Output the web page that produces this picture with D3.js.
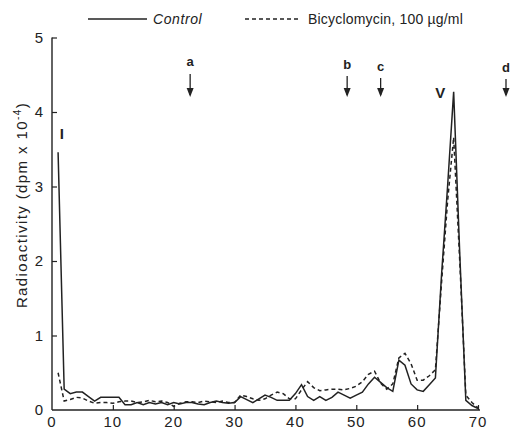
<!DOCTYPE html>
<html><head><meta charset="utf-8">
<script src="https://cdn.jsdelivr.net/npm/d3@7"></script>
<style>
html,body{margin:0;padding:0;background:#fff;}
svg{display:block;}
text{font-family:"Liberation Sans","DejaVu Sans",sans-serif;fill:#222;}
</style></head>
<body>
<svg id="c" width="510" height="430"></svg>
<script>
// ---- data ----
const fractions = d3.range(1, 71);
const control = [3.46,0.28,0.22,0.24,0.24,0.18,0.12,0.17,0.17,0.17,
  0.17,0.07,0.07,0.10,0.07,0.10,0.08,0.10,0.07,0.10,
  0.08,0.10,0.10,0.08,0.07,0.10,0.12,0.10,0.09,0.10,
  0.18,0.14,0.10,0.15,0.20,0.17,0.13,0.13,0.13,0.22,
  0.34,0.18,0.13,0.18,0.13,0.17,0.24,0.20,0.16,0.20,
  0.24,0.35,0.44,0.37,0.30,0.25,0.67,0.60,0.35,0.27,
  0.25,0.34,0.43,1.80,3.00,4.27,2.10,0.13,0.06,0.02];
const bicyclomycin = [0.50,0.12,0.14,0.17,0.16,0.12,0.09,0.10,0.10,0.09,
  0.11,0.12,0.12,0.10,0.11,0.13,0.11,0.12,0.10,0.05,
  0.09,0.11,0.11,0.10,0.12,0.11,0.10,0.12,0.10,0.10,
  0.20,0.18,0.15,0.13,0.15,0.20,0.24,0.22,0.15,0.15,
  0.27,0.38,0.30,0.26,0.27,0.28,0.28,0.27,0.29,0.32,
  0.38,0.48,0.52,0.36,0.28,0.35,0.70,0.76,0.62,0.40,
  0.40,0.46,0.54,1.70,2.80,3.66,2.00,0.20,0.10,0.03];
const xTicks = [0,10,20,30,40,50,60,70];
const yTicks = [0,1,2,3,4,5];
const arrowLabels = ["a","b","c","d"];
const arrowPositions = [22.7,48.5,54,74.6];
const peakLabels = ["I","V"];
const peakPositions = [1.6,63.8];
const peakValues = [3.75,4.3];
const seriesNames = ["Control","Bicyclomycin, 100 \u00b5g/ml"];

// ---- drawing ----
const svg = d3.select("#c");
const x = d3.scaleLinear().domain([0,70]).range([52,478]);
const y = d3.scaleLinear().domain([0,5]).range([410,37.5]);
const ink = "#222";

// axes
const yAxis = d3.axisRight(y).tickValues(yTicks.slice(1)).tickSize(5).tickFormat("");
const gy = svg.append("g").attr("transform",`translate(${x(0)},0)`).call(yAxis);
gy.select(".domain").attr("d",`M0,${y(5)}V${y(0)}`).attr("stroke",ink).attr("stroke-width",1.4);
gy.selectAll(".tick line").attr("stroke",ink).attr("stroke-width",1.2);

const xAxis = d3.axisTop(x).tickValues(xTicks.slice(1)).tickSize(5).tickFormat("");
const gx = svg.append("g").attr("transform",`translate(0,${y(0)})`).call(xAxis);
gx.select(".domain").attr("d",`M${x(0)},0H${x(70)+2}`).attr("stroke",ink).attr("stroke-width",1.4);
gx.selectAll(".tick line").attr("stroke",ink).attr("stroke-width",1.2);

// tick labels
svg.append("g").selectAll("text").data(yTicks).join("text")
  .attr("x",x(0)-9).attr("y",d=>y(d)+5).attr("text-anchor","end")
  .attr("font-size",15).text(d=>d);
svg.append("g").selectAll("text").data(xTicks).join("text")
  .attr("x",d=>x(d)).attr("y",y(0)+17).attr("text-anchor","middle")
  .attr("font-size",15).attr("letter-spacing",1).text(d=>d);

// axis title
svg.append("text").attr("transform",`translate(27,205) rotate(-90)`)
  .attr("text-anchor","middle").attr("font-size",15).attr("letter-spacing",1.4)
  .html("Radioactivity (dpm x 10<tspan dy='-6' font-size='10'>-4</tspan><tspan dy='6'>)</tspan>");

// lines
const line = d3.line().x((d,i)=>x(fractions[i])).y(d=>y(d));
svg.append("path").datum(bicyclomycin).attr("d",line).attr("fill","none")
  .attr("stroke",ink).attr("stroke-width",1.5).attr("stroke-dasharray","4,3");
svg.append("path").datum(control).attr("d",line).attr("fill","none")
  .attr("stroke",ink).attr("stroke-width",1.5);

// legend
const lg = svg.append("g");
lg.append("line").attr("x1",88).attr("x2",147).attr("y1",19).attr("y2",19).attr("stroke",ink).attr("stroke-width",1.4);
lg.append("text").attr("x",153).attr("y",24).attr("font-size",14).attr("font-style","italic").attr("letter-spacing",0.6).text(seriesNames[0]);
lg.append("line").attr("x1",245).attr("x2",300).attr("y1",19).attr("y2",19).attr("stroke",ink).attr("stroke-width",1.4).attr("stroke-dasharray","4,3");
lg.append("text").attr("x",308).attr("y",24).attr("font-size",14).attr("letter-spacing",0.2).text(seriesNames[1]);

// arrows
const ag = svg.append("g").selectAll("g").data(arrowLabels).join("g")
  .attr("transform",(d,i)=>`translate(${x(arrowPositions[i])},0)`);
ag.append("text").attr("y",(d,i)=>[66,69,71,72][i]).attr("text-anchor","middle")
  .attr("font-size",13).attr("font-weight","bold").text(d=>d);
ag.append("line").attr("y1",(d,i)=>[74,76,78,79][i]).attr("y2",95).attr("stroke",ink).attr("stroke-width",1.3);
ag.append("path").attr("d","M-3.5,88L0,97L3.5,88Z").attr("fill",ink);

// peak labels
svg.append("g").selectAll("text").data(peakLabels).join("text")
  .attr("x",(d,i)=>x(peakPositions[i])).attr("y",(d,i)=>y(peakValues[i])+8)
  .attr("text-anchor","middle").attr("font-size",15).attr("font-weight","bold").text(d=>d);
</script>
</body></html>
